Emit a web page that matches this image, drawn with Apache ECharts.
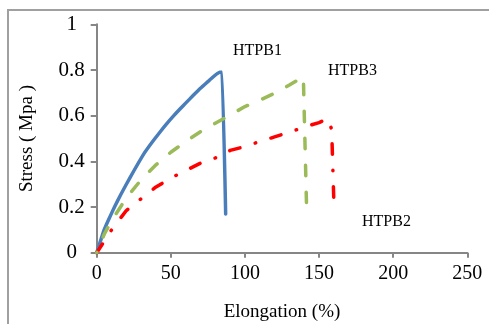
<!DOCTYPE html>
<html>
<head>
<meta charset="utf-8">
<script src="https://cdn.jsdelivr.net/npm/echarts@6/dist/echarts.min.js"></script>
<style>
html,body{margin:0;padding:0;background:#fff;}
#chart{width:489px;height:324px;}
</style>
</head>
<body>
<div id="chart"></div>
<script>
// Data (x = elongation %, y = stress MPa)
const htpb1 = [[0,0],[2,0.04],[5,0.1],[8,0.145],[12,0.2],[16,0.252],[20,0.3],[25,0.358],[32,0.435],[38,0.489],[43,0.531],[47,0.563],[52,0.6],[56,0.628],[60,0.655],[65,0.688],[70,0.72],[76,0.755],[83,0.79],[84.5,0.79],[87,0.17]];
const htpb3 = [[0,0],[5,0.08],[10,0.14],[20,0.24],[30,0.32],[40,0.385],[50,0.44],[60,0.487],[70,0.53],[80,0.567],[90,0.603],[100,0.64],[110,0.668],[120,0.698],[130,0.734],[139.4,0.771],[141.5,0.22]];
const htpb2 = [[0,0],[5,0.05],[10,0.1],[20,0.185],[30,0.237],[40,0.288],[50,0.327],[60,0.36],[70,0.392],[80,0.415],[90,0.448],[100,0.465],[110,0.487],[120,0.507],[130,0.528],[140,0.55],[150,0.57],[156,0.587],[158.5,0.54],[160,0.22]];
const seriesNames = ['HTPB1','HTPB2','HTPB3'];
const xTicks = [0,50,100,150,200,250];
const yTicks = [0,0.2,0.4,0.6,0.8,1];

const FONT = "'Liberation Serif','Times New Roman',serif";
const chart = echarts.init(document.getElementById('chart'), null, {renderer:'canvas'});
const axisGray = '#868686';

function lineSeries(name, data, color, dash, offset, smooth) {
  return {
    name: name, type: 'line', data: data, symbol: 'none', smooth: smooth || false,
    lineStyle: {color: color, width: 3.5, type: dash, dashOffset: offset || 0, cap: 'round', join: 'round'},
    animation: false
  };
}

chart.setOption({
  animation: false,
  backgroundColor: '#fff',
  grid: {left: 96.7, right: 21.7, top: 24.3, bottom: 71.2, containLabel: false, outerBoundsMode: 'none'},
  xAxis: {
    type: 'value', min: xTicks[0], max: xTicks[xTicks.length-1], interval: 50,
    name: 'Elongation (%)', nameLocation: 'middle', nameGap: 50,
    nameTextStyle: {fontFamily: FONT, fontSize: 19, color: '#000'},
    axisLine: {show: true, lineStyle: {color: axisGray, width: 2}},
    axisTick: {show: true, length: 5, lineStyle: {color: axisGray, width: 2}},
    axisLabel: {fontFamily: FONT, fontSize: 20, color: '#000', margin: 11},
    splitLine: {show: false}
  },
  yAxis: {
    type: 'value', min: yTicks[0], max: yTicks[yTicks.length-1], interval: 0.2,
    name: 'Stress ( Mpa )', nameLocation: 'middle', nameGap: 60,
    nameTextStyle: {fontFamily: FONT, fontSize: 19, color: '#000'},
    axisLine: {show: true, lineStyle: {color: axisGray, width: 2}},
    axisTick: {show: true, length: 6, lineStyle: {color: axisGray, width: 2}},
    axisLabel: {fontFamily: FONT, fontSize: 21, color: '#000', margin: 25, align: 'center',
      formatter: v => String(Math.round(v*10)/10)},
    splitLine: {show: false}
  },
  series: [
    lineSeries(seriesNames[0], htpb1, '#4a7ebb', 'solid', 0, 0.15),
    lineSeries(seriesNames[1], htpb2, '#ff0000', [10.5,16,0.5,16], 0, false),
    lineSeries(seriesNames[2], htpb3, '#9bbb59', [10.5,16.5], 10, false)
  ],
  graphic: [
    {type:'line', shape:{x1:7, y1:10, x2:489, y2:10}, style:{stroke:'#a0a0a0', lineWidth:2}, silent:true},
    {type:'line', shape:{x1:8, y1:10, x2:8, y2:324}, style:{stroke:'#a0a0a0', lineWidth:2}, silent:true},
    {type:'text', left: 233, top: 43, style:{text: seriesNames[0], font: '16px ' + FONT, fill:'#000'}},
    {type:'text', left: 328, top: 63, style:{text: seriesNames[2], font: '16px ' + FONT, fill:'#000'}},
    {type:'text', left: 362, top: 214, style:{text: seriesNames[1], font: '16px ' + FONT, fill:'#000'}}
  ]
});
</script>
</body>
</html>
